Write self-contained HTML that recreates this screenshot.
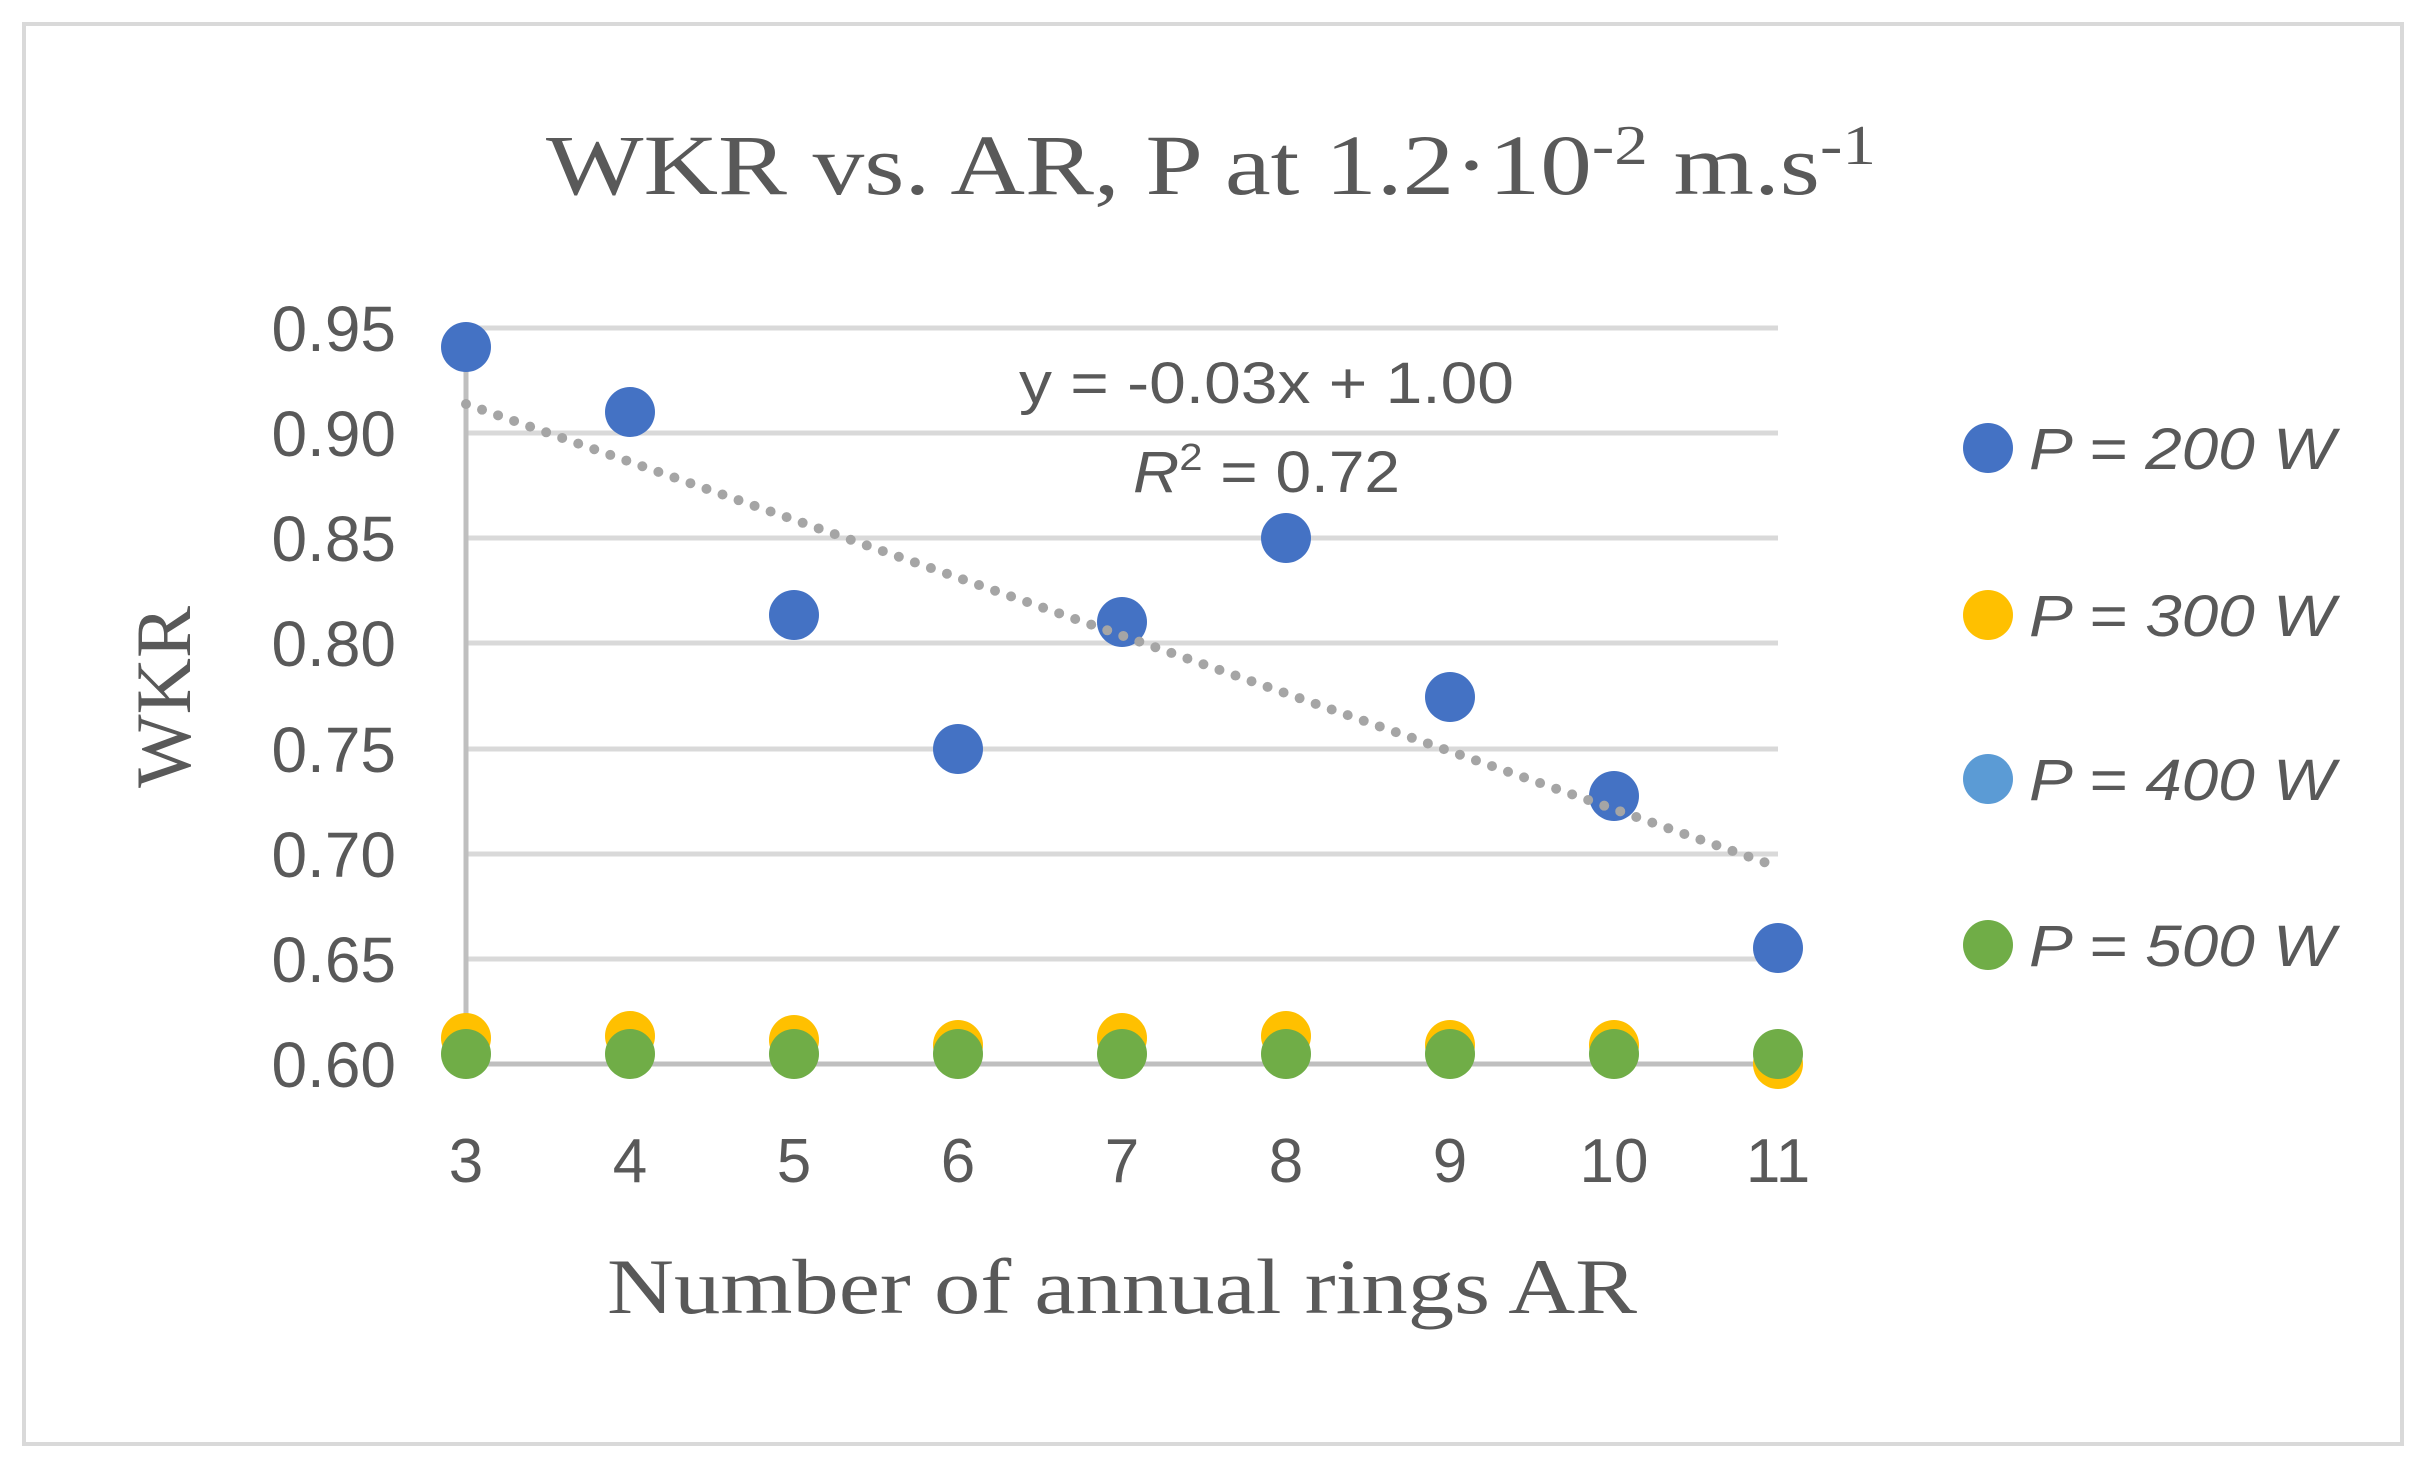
<!DOCTYPE html>
<html><head><meta charset="utf-8"><style>html,body{margin:0;padding:0;background:#fff}svg{display:block}</style></head>
<body>
<svg width="2428" height="1476" viewBox="0 0 2428 1476" xmlns="http://www.w3.org/2000/svg">
<rect x="0" y="0" width="2428" height="1476" fill="#fff"/>
<rect x="24" y="24" width="2378" height="1420" fill="none" stroke="#d9d9d9" stroke-width="4"/>
<text x="1211" y="194" text-anchor="middle" font-family="Liberation Serif, serif" font-size="86" fill="#595959" textLength="1330" lengthAdjust="spacingAndGlyphs">WKR vs. AR, P at 1.2·10<tspan dy="-30" font-size="56">-2</tspan><tspan dy="30"> m.s</tspan><tspan dy="-30" font-size="56">-1</tspan></text>
<g stroke="#d9d9d9" stroke-width="5">
<line x1="466" x2="1778" y1="328" y2="328"/>
<line x1="466" x2="1778" y1="433" y2="433"/>
<line x1="466" x2="1778" y1="538" y2="538"/>
<line x1="466" x2="1778" y1="643" y2="643"/>
<line x1="466" x2="1778" y1="749" y2="749"/>
<line x1="466" x2="1778" y1="854" y2="854"/>
<line x1="466" x2="1778" y1="959" y2="959"/>
</g>
<line x1="466" x2="1778" y1="1064" y2="1064" stroke="#bfbfbf" stroke-width="5"/>
<line x1="466" x2="466" y1="328" y2="1064" stroke="#bfbfbf" stroke-width="5"/>
<g font-family="Liberation Sans, sans-serif" font-size="64" fill="#595959" text-anchor="end">
<text x="396" y="351">0.95</text><text x="396" y="456">0.90</text><text x="396" y="561">0.85</text><text x="396" y="666">0.80</text><text x="396" y="772">0.75</text><text x="396" y="877">0.70</text><text x="396" y="982">0.65</text><text x="396" y="1087">0.60</text>
</g>
<g font-family="Liberation Sans, sans-serif" font-size="62" fill="#595959" text-anchor="middle">
<text x="466" y="1182">3</text><text x="630" y="1182">4</text><text x="794" y="1182">5</text><text x="958" y="1182">6</text><text x="1122" y="1182">7</text><text x="1286" y="1182">8</text><text x="1450" y="1182">9</text><text x="1614" y="1182">10</text><text x="1778" y="1182">11</text>
</g>
<text x="1122" y="1313" text-anchor="middle" font-family="Liberation Serif, serif" font-size="78" fill="#595959" textLength="1030" lengthAdjust="spacingAndGlyphs">Number of annual rings AR</text>
<text transform="translate(190,697) rotate(-90)" text-anchor="middle" font-family="Liberation Serif, serif" font-size="78" fill="#595959">WKR</text>
<g fill="#ffc000">
<circle cx="466" cy="1038" r="25"/><circle cx="630" cy="1036" r="25"/><circle cx="794" cy="1040" r="25"/><circle cx="958" cy="1045" r="25"/><circle cx="1122" cy="1038" r="25"/><circle cx="1286" cy="1036" r="25"/><circle cx="1450" cy="1045" r="25"/><circle cx="1614" cy="1045" r="25"/><circle cx="1778" cy="1064" r="25"/>
</g>
<g fill="#70ad47">
<circle cx="466" cy="1054" r="25"/><circle cx="630" cy="1054" r="25"/><circle cx="794" cy="1054" r="25"/><circle cx="958" cy="1054" r="25"/><circle cx="1122" cy="1054" r="25"/><circle cx="1286" cy="1054" r="25"/><circle cx="1450" cy="1054" r="25"/><circle cx="1614" cy="1054" r="25"/><circle cx="1778" cy="1054" r="25"/>
</g>
<g fill="#4472c4">
<circle cx="466" cy="347" r="25"/><circle cx="630" cy="412" r="25"/><circle cx="794" cy="615" r="25"/><circle cx="958" cy="749" r="25"/><circle cx="1122" cy="622" r="25"/><circle cx="1286" cy="538" r="25"/><circle cx="1450" cy="697" r="25"/><circle cx="1614" cy="796" r="25"/><circle cx="1778" cy="948" r="25"/>
</g>
<line x1="466" y1="404" x2="1778" y2="867" stroke="#a5a5a5" stroke-width="10" stroke-linecap="round" stroke-dasharray="0 17"/>
<g font-family="Liberation Sans, sans-serif" font-size="58" fill="#595959">
<text x="1019" y="403" textLength="495" lengthAdjust="spacingAndGlyphs">y = -0.03x + 1.00</text>
<text x="1133" y="492" textLength="267" lengthAdjust="spacingAndGlyphs"><tspan font-style="italic">R</tspan><tspan dy="-22" font-size="38">2</tspan><tspan dy="22"> = 0.72</tspan></text>
</g>
<circle cx="1988" cy="448" r="25" fill="#4472c4"/>
<circle cx="1988" cy="615" r="25" fill="#ffc000"/>
<circle cx="1988" cy="779" r="25" fill="#5b9bd5"/>
<circle cx="1988" cy="945" r="25" fill="#70ad47"/>
<g font-family="Liberation Sans, sans-serif" font-size="58" font-style="italic" fill="#595959">
<text x="2029" y="469" textLength="306" lengthAdjust="spacingAndGlyphs">P = 200 W</text>
<text x="2029" y="636" textLength="306" lengthAdjust="spacingAndGlyphs">P = 300 W</text>
<text x="2029" y="800" textLength="306" lengthAdjust="spacingAndGlyphs">P = 400 W</text>
<text x="2029" y="966" textLength="306" lengthAdjust="spacingAndGlyphs">P = 500 W</text>
</g>
</svg>
</body></html>
